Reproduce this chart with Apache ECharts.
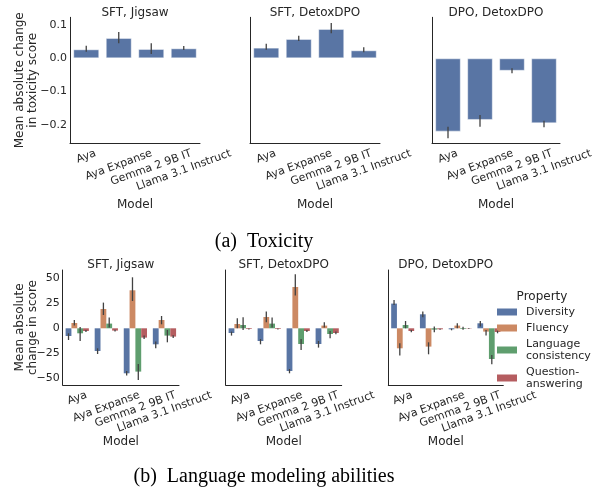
<!DOCTYPE html>
<html><head><meta charset="utf-8">
<script src="https://cdn.jsdelivr.net/npm/echarts@6/dist/echarts.min.js"></script>
<style>html,body{margin:0;padding:0;background:#fff}#c{width:598px;height:490px}</style>
</head><body><div id="c"></div>
<script>
// ---------- data ----------
const models = ['Aya', 'Aya Expanse', 'Gemma 2 9B IT', 'Llama 3.1 Instruct'];
const toxPanels = ['SFT, Jigsaw', 'SFT, DetoxDPO', 'DPO, DetoxDPO'];
const lmPanels = ['SFT, Jigsaw', 'SFT, DetoxDPO', 'DPO, DetoxDPO'];
const toxTicks = [-0.2, -0.1, 0.0, 0.1];
const lmTicks = [-50, -25, 0, 25, 50];
const toxYName = 'Mean absolute change\nin toxicity score';
const lmYName = 'Mean absolute\nchange in score';

// (a) toxicity: mean absolute change, with CI [low, high]
const toxSftJigsaw = [0.027, 0.061, 0.028, 0.030];
const toxSftJigsawCI = [[0.020, 0.038], [0.045, 0.079], [0.013, 0.045], [0.025, 0.037]];
const toxSftDetox = [0.032, 0.058, 0.088, 0.024];
const toxSftDetoxCI = [[0.026, 0.044], [0.052, 0.068], [0.075, 0.106], [0.018, 0.033]];
const toxDpoDetox = [-0.220, -0.185, -0.0375, -0.195];
const toxDpoDetoxCI = [[-0.240, -0.205], [-0.205, -0.170], [-0.045, -0.030], [-0.207, -0.187]];

// (b) language modeling abilities
const properties = ['Diversity', 'Fluency', 'Language\nconsistency', 'Question-\nanswering'];
// SFT, Jigsaw
const jigDiversity = [-7.7, -22.7, -45.0, -16.0];
const jigDiversityCI = [[-11.7, -5.0], [-25.7, -20.0], [-47.3, -42.7], [-20.0, -13.3]];
const jigFluency = [5.3, 19.3, 38.0, 8.3];
const jigFluencyCI = [[2.7, 8.3], [13.3, 25.7], [27.3, 51.0], [4.0, 12.3]];
const jigLangCons = [-5.0, 4.7, -43.3, -7.3];
const jigLangConsCI = [[-12.7, 1.3], [0.7, 10.7], [-51.7, -35.7], [-14.0, -1.7]];
const jigQA = [-2.7, -2.3, -9.3, -8.3];
const jigQACI = [[-3.7, -1.7], [-3.2, -1.5], [-10.7, -7.3], [-9.7, -7.0]];
// SFT, DetoxDPO
const sftDiversity = [-4.7, -12.7, -42.7, -15.7];
const sftDiversityCI = [[-7.3, -3.3], [-16.0, -10.7], [-45.0, -40.7], [-19.3, -12.7]];
const sftFluency = [4.3, 11.3, 41.3, 2.7];
const sftFluencyCI = [[0.0, 10.0], [6.0, 16.7], [32.7, 54.0], [0.7, 6.0]];
const sftLangCons = [3.3, 4.7, -15.7, -5.7];
const sftLangConsCI = [[-1.7, 11.0], [0.7, 10.7], [-21.7, -10.7], [-10.0, -2.7]];
const sftQA = [-0.7, -0.7, -2.7, -4.7];
const sftQACI = [[-1.2, -0.2], [-1.2, -0.2], [-3.7, -1.7], [-6.0, -3.3]];
// DPO, DetoxDPO
const dpoDiversity = [24.7, 14.0, -1.0, 5.0];
const dpoDiversityCI = [[23.3, 28.3], [11.0, 16.7], [-2.0, -0.3], [1.7, 7.3]];
const dpoFluency = [-20.0, -18.3, 2.7, -3.3];
const dpoFluencyCI = [[-27.3, -15.0], [-26.0, -14.0], [0.0, 5.0], [-7.3, -1.7]];
const dpoLangCons = [3.3, -1.3, -0.7, -30.7];
const dpoLangConsCI = [[0.0, 7.3], [-4.0, 1.7], [-1.5, 1.5], [-36.0, -26.7]];
const dpoQA = [-2.7, -1.0, -0.3, -3.7];
const dpoQACI = [[-4.0, -1.7], [-1.5, -0.5], [-0.6, 0.0], [-5.0, -2.3]];

// ---------- styling / layout ----------
const FONT = 'DejaVu Sans';
const TXT = '#262626';
const ERR = '#424242';
const propColors = ['#5975a4', '#cc8963', '#5f9e6e', '#b55d60'];
const toxColor = '#5975a4';

const toxSeries = [[toxSftJigsaw, toxSftJigsawCI], [toxSftDetox, toxSftDetoxCI], [toxDpoDetox, toxDpoDetoxCI]];
const lmSeries = [
  [[jigDiversity, jigDiversityCI], [jigFluency, jigFluencyCI], [jigLangCons, jigLangConsCI], [jigQA, jigQACI]],
  [[sftDiversity, sftDiversityCI], [sftFluency, sftFluencyCI], [sftLangCons, sftLangConsCI], [sftQA, sftQACI]],
  [[dpoDiversity, dpoDiversityCI], [dpoFluency, dpoFluencyCI], [dpoLangCons, dpoLangConsCI], [dpoQA, dpoQACI]]
];

const grids = [
  {left: 70, top: 17.3, width: 130, height: 126},
  {left: 250, top: 17.3, width: 130, height: 126},
  {left: 432, top: 17.3, width: 128, height: 126},
  {left: 62.7, top: 270, width: 116.3, height: 115},
  {left: 225.7, top: 270, width: 116, height: 115},
  {left: 388.3, top: 270, width: 115, height: 115}
].map(g => Object.assign({containLabel: false, outerBoundsMode: 'none'}, g));

const toxRange = [-0.255, 0.123];
const lmRange = [-56.7, 58.3];

function fmtNum(v, dec) {
  const s = Math.abs(v).toFixed(dec);
  return (v < -1e-9 ? '\u2212' : '') + s;
}

const xAxes = [], yAxes = [], series = [];
for (let g = 0; g < 6; g++) {
  const top = g < 3;
  xAxes.push({
    type: 'category', gridIndex: g, data: models,
    axisLine: {show: true, onZero: false, lineStyle: {color: TXT, width: 1}},
    axisTick: {show: false}, axisLabel: {show: false}, splitLine: {show: false},
    name: 'Model', nameLocation: 'middle', nameGap: top ? 56 : 50.5,
    nameTextStyle: {fontSize: 12, color: TXT, fontFamily: FONT}
  });
  const first = (g === 0 || g === 3);
  const ticks = top ? toxTicks : lmTicks;
  yAxes.push({
    type: 'value', gridIndex: g,
    min: top ? toxRange[0] : lmRange[0], max: top ? toxRange[1] : lmRange[1],
    minInterval: top ? 0.1 : 25, maxInterval: top ? 0.1 : 25,
    axisLine: {show: true, lineStyle: {color: TXT, width: 1}},
    axisTick: {show: false}, splitLine: {show: false},
    axisLabel: {
      show: first, showMinLabel: false, showMaxLabel: false, margin: 3,
      fontSize: 11, color: TXT, fontFamily: FONT,
      formatter: v => {
        const hit = ticks.find(t => Math.abs(t - v) < 1e-6);
        if (hit === undefined) return '';
        return top ? fmtNum(hit, 1) : fmtNum(hit, 0);
      }
    }
  });
}

function errRender(nGroup, k) {
  return function (params, api) {
    const i = api.value(0);
    const p1 = api.coord([i, api.value(1)]);
    const p2 = api.coord([i, api.value(2)]);
    const band = api.size([1, 0])[0];
    const off = (-0.4 + (k + 0.5) * 0.8 / nGroup) * band;
    return {type: 'line', shape: {x1: p1[0] + off, y1: p1[1], x2: p2[0] + off, y2: p2[1]},
      style: {stroke: ERR, lineWidth: 1.3}};
  };
}

toxSeries.forEach((s, g) => {
  series.push({
    type: 'bar', name: 'Toxicity', xAxisIndex: g, yAxisIndex: g, data: s[0],
    barCategoryGap: '20%',
    itemStyle: {color: toxColor, borderColor: 'rgba(255,255,255,0.45)', borderWidth: 1},
    silent: true
  });
  series.push({
    type: 'custom', name: 'ci', xAxisIndex: g, yAxisIndex: g, z: 5,
    data: s[1].map((c, i) => [i, c[0], c[1]]), encode: {x: 0, y: [1, 2]},
    renderItem: errRender(1, 0), silent: true
  });
});

lmSeries.forEach((panel, p) => {
  const g = p + 3;
  panel.forEach((s, k) => {
    series.push({
      type: 'bar', name: properties[k], xAxisIndex: g, yAxisIndex: g, data: s[0],
      barGap: '0%', barCategoryGap: '20%',
      itemStyle: {color: propColors[k]}, silent: true
    });
  });
  panel.forEach((s, k) => {
    series.push({
      type: 'custom', name: 'ci', xAxisIndex: g, yAxisIndex: g, z: 5,
      data: s[1].map((c, i) => [i, c[0], c[1]]), encode: {x: 0, y: [1, 2]},
      renderItem: errRender(4, k), silent: true
    });
  });
});

const option = {
  animation: false,
  backgroundColor: '#ffffff',
  textStyle: {fontFamily: FONT, color: TXT},
  grid: grids, xAxis: xAxes, yAxis: yAxes, series: series,
  legend: {
    data: properties, orient: 'vertical', left: 497, top: 306,
    itemWidth: 20, itemHeight: 7, itemGap: 4, padding: 0, icon: 'rect',
    selectedMode: false,
    textStyle: {fontSize: 11, lineHeight: 12, color: TXT, fontFamily: FONT, padding: [0, 0, 0, 4]}
  }
};

const chart = echarts.init(document.getElementById('c'), null, {renderer: 'canvas'});
chart.setOption(option);

// ---------- text: titles, captions, axis names, rotated category labels ----------
const gfx = [];
function addText(text, x, y, font, fill, extra, styleExtra) {
  gfx.push(Object.assign({type: 'text', x: x, y: y, silent: true,
    style: Object.assign({text: text, font: font, fill: fill, align: 'center', verticalAlign: 'middle'}, styleExtra || {})},
    extra || {}));
}
const titleFont = '12px "' + FONT + '"';
[0, 1, 2].forEach(g => {
  const gr = grids[g];
  addText(toxPanels[g], gr.left + gr.width / 2, 13, titleFont, TXT);
});
[3, 4, 5].forEach(g => {
  const gr = grids[g];
  addText(lmPanels[g - 3], gr.left + gr.width / 2, 265, titleFont, TXT);
});
addText(toxYName, 26.5, grids[0].top + grids[0].height / 2, titleFont, TXT, {rotation: Math.PI / 2}, {lineHeight: 13});
addText(lmYName, 26.5, grids[3].top + grids[3].height / 2, titleFont, TXT, {rotation: Math.PI / 2}, {lineHeight: 13});
addText('Property', 542, 297, titleFont, TXT);
addText('(a)  Toxicity', 264, 242, '20px "Liberation Serif"', '#000');
addText('(b)  Language modeling abilities', 264, 477, '20px "Liberation Serif"', '#000');

const labFont = '11px "' + FONT + '"';
const ctx = document.createElement('canvas').getContext('2d');
ctx.font = labFont;
const th = 20 * Math.PI / 180;
const hBox = 13;
for (let g = 0; g < 6; g++) {
  const yMin = g < 3 ? toxRange[0] : lmRange[0];
  const axisY = chart.convertToPixel({yAxisIndex: g}, yMin);
  models.forEach(m => {
    const px = chart.convertToPixel({xAxisIndex: g}, m);
    const L = ctx.measureText(m).width;
    const H = L * Math.sin(th) + hBox * Math.cos(th);
    addText(m, px, axisY + 3.7 + H / 2, labFont, TXT, {rotation: th});
  });
}
chart.setOption({graphic: {elements: gfx}});
</script>
</body></html>
